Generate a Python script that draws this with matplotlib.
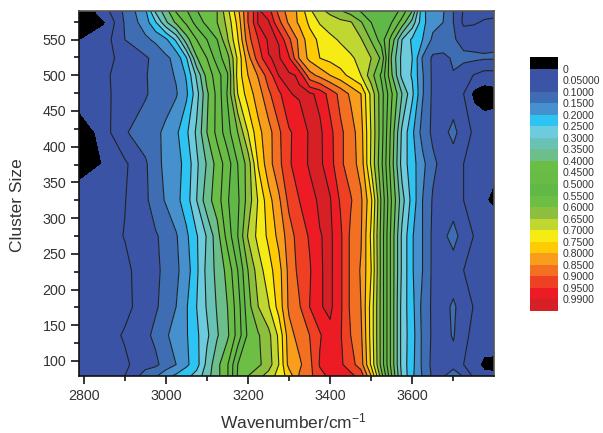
import numpy as np
import matplotlib
matplotlib.use("Agg")
import matplotlib.pyplot as plt
from matplotlib.colors import ListedColormap, BoundaryNorm

plt.rcParams['font.family'] = ['Liberation Sans', 'DejaVu Sans']
plt.rcParams['mathtext.default'] = 'regular'

wavenumber = [2790, 2850, 2900, 2950, 2975, 3000, 3025, 3050, 3075, 3100, 3125, 3150, 3175, 3200,
              3225, 3250, 3275, 3300, 3325, 3350, 3375, 3400, 3425, 3450, 3475, 3500, 3525, 3550,
              3575, 3600, 3625, 3650, 3675, 3700, 3725, 3750, 3775, 3800]
cluster_size = [79, 95, 136, 176, 227, 275, 325, 376, 420, 474, 500, 524, 550, 574, 590]

row_79 = [.02,.03,.05,.122,.143,.185,.21,.235,.27,.33,.385,.445,.555,.60,.635,.67,.72,.77,.855,.885,.935,.96,.965,.965,.93,.80,.62,.45,.29,.21,.145,.09,.095,.13,.095,.04,.015,.01]
row_95 = [.02,.03,.04,.082,.09,.12,.15,.19,.23,.315,.385,.445,.55,.57,.59,.625,.70,.82,.84,.885,.955,.97,.96,.92,.875,.74,.58,.43,.28,.215,.14,.085,.07,.08,.05,.02,-.015,-.015]
row_136 = [.02,.025,.056,.09,.11,.145,.165,.195,.24,.29,.345,.39,.47,.56,.595,.635,.71,.83,.87,.90,.945,.98,.955,.90,.86,.73,.58,.43,.28,.22,.14,.09,.08,.105,.055,.045,.04,.035]
row_176 = [.02,.03,.035,.075,.095,.115,.15,.195,.25,.305,.355,.40,.475,.58,.65,.695,.77,.86,.895,.95,.987,.998,.96,.89,.85,.73,.58,.43,.28,.215,.135,.09,.08,.11,.07,.048,.04,.035]
row_227 = [.02,.03,.038,.075,.092,.11,.14,.175,.24,.315,.365,.415,.50,.60,.675,.73,.78,.865,.915,.945,.987,.998,.96,.89,.845,.75,.58,.43,.29,.205,.15,.09,.075,.065,.05,.04,.035,.03]
row_275 = [.02,.03,.052,.08,.095,.115,.145,.19,.245,.305,.38,.47,.55,.655,.716,.76,.815,.875,.925,.955,.988,.998,.96,.89,.855,.74,.58,.43,.29,.205,.15,.09,.085,.125,.07,.049,.04,.035]
row_325 = [.035,.03,.048,.09,.125,.155,.185,.225,.30,.38,.425,.495,.54,.62,.705,.78,.84,.915,.95,.975,.997,.993,.945,.905,.86,.76,.59,.445,.32,.23,.15,.095,.08,.065,.05,.04,.005,-.01]
row_376 = [-.03,.003,.042,.093,.13,.165,.183,.215,.29,.355,.42,.475,.55,.62,.755,.83,.885,.945,.97,.995,.997,.97,.91,.875,.83,.69,.56,.42,.28,.22,.165,.11,.085,.065,.05,.04,.03,.01]
row_420 = [-.05,.03,.095,.125,.14,.16,.19,.24,.31,.40,.465,.53,.60,.70,.785,.83,.89,.945,.965,.995,.997,.965,.91,.875,.82,.695,.57,.43,.29,.21,.13,.09,.08,.12,.065,.045,.035,.03]
row_474 = [.045,.04,.07,.095,.115,.13,.145,.19,.28,.39,.465,.555,.70,.775,.825,.89,.94,.988,.995,.997,.98,.93,.885,.84,.80,.685,.57,.455,.35,.26,.155,.09,.08,.06,.05,-.015,-.03,-.02]
row_500 = [.04,.04,.075,.097,.113,.133,.155,.205,.31,.42,.475,.545,.72,.80,.855,.925,.991,.997,.985,.87,.835,.80,.77,.735,.70,.62,.54,.405,.285,.245,.155,.09,.09,.098,.075,.048,.03,.03]
row_524 = [.03,.035,.065,.093,.114,.14,.165,.245,.395,.45,.525,.58,.71,.83,.925,.988,.995,.955,.845,.785,.75,.735,.72,.708,.685,.65,.59,.39,.285,.25,.145,.09,.09,.105,.11,.11,.105,.105]
row_550 = [-.002,.025,.10,.14,.16,.19,.26,.38,.45,.50,.55,.645,.745,.88,.95,.997,.988,.91,.835,.77,.74,.71,.695,.675,.655,.595,.525,.43,.30,.24,.20,.14,.125,.105,.085,.08,.085,.09]
row_574 = [-.02,-.005,.105,.175,.245,.34,.41,.46,.52,.565,.60,.665,.765,.90,.995,.995,.915,.84,.79,.74,.695,.68,.665,.655,.605,.55,.535,.50,.43,.33,.215,.165,.15,.10,.04,.045,.055,.06]
row_590 = [-.05,.03,.11,.19,.31,.38,.455,.495,.548,.57,.60,.685,.785,.90,.995,.97,.885,.825,.79,.71,.665,.635,.605,.575,.545,.535,.545,.54,.48,.40,.21,.175,.155,.10,.045,.035,.035,.035]

intensity = np.array([row_79, row_95, row_136, row_176, row_227, row_275, row_325, row_376,
                      row_420, row_474, row_500, row_524, row_550, row_574, row_590])

levels = [-1, 0, .05, .1, .15, .2, .25, .3, .35, .4, .45, .5, .55, .6, .65, .7, .75, .8, .85, .9, .95, .99, 1.01]
level_labels = ['0', '0.05000', '0.1000', '0.1500', '0.2000', '0.2500', '0.3000', '0.3500', '0.4000',
                '0.4500', '0.5000', '0.5500', '0.6000', '0.6500', '0.7000', '0.7500', '0.8000',
                '0.8500', '0.9000', '0.9500', '0.9900']
band_colors = ['#000000', '#3A53A4', '#3B54A5', '#3F6DB4', '#4690CD', '#2DC4F4', '#6CCBDD', '#68C2B5',
               '#6CBE8A', '#6ABD45', '#68BC45', '#60B946', '#6CBE45', '#8DBF3F', '#BFD730', '#F6EB14',
               '#FFCB05', '#F99D1C', '#F36F21', '#EF4023', '#ED1C24', '#D71F26']

W, H = 603, 433
fig = plt.figure(figsize=(W / 100, H / 100), dpi=100)
ax = fig.add_axes([79 / W, 1 - 376 / H, (494 - 79) / W, (376 - 11) / H])
cmap = ListedColormap(band_colors)
norm = BoundaryNorm(levels, cmap.N)
cf = ax.contourf(wavenumber, cluster_size, intensity, levels=levels, cmap=cmap, norm=norm)
ax.contour(wavenumber, cluster_size, intensity, levels=levels[2:-1], colors='#222222', linewidths=0.8)

ax.set_xlim(2788.5, 3799)
ax.set_ylim(79, 590)
ax.set_xticks([2800, 3000, 3200, 3400, 3600])
ax.set_xticks([2900, 3100, 3300, 3500, 3700], minor=True)
ax.set_yticks(list(range(100, 551, 50)))
ax.set_yticks(list(range(125, 576, 50)), minor=True)
ax.tick_params(axis='both', which='major', length=6, width=1.1, labelsize=10.3, labelcolor='#333333', pad=3)
ax.tick_params(axis='both', which='minor', length=3.5, width=1.1)
for name, spine in ax.spines.items():
    spine.set_linewidth(1.2)
    spine.set_color('#111111' if name in ('left', 'bottom') else '#555555')
fig.text(293 / W, 1 - 421 / H, 'Wavenumber/cm$^{-1}$', ha='center', va='center', fontsize=12.5, color='#333333')
fig.text(18 / W, 1 - 205 / H, 'Cluster Size', rotation=90, ha='center', va='center', fontsize=12.5, color='#333333')

cax = fig.add_axes([529.5 / W, 1 - 311 / H, 28.5 / W, 254 / H])
cbar = fig.colorbar(cf, cax=cax, spacing='uniform', ticks=levels[1:-1])
cbar.ax.invert_yaxis()
cbar.ax.minorticks_off()
cbar.ax.set_yticklabels(level_labels, fontsize=7.6, color='#333333')
cbar.ax.tick_params(length=0, pad=3.5)
cbar.outline.set_visible(False)

fig.savefig('out.png', dpi=100)
